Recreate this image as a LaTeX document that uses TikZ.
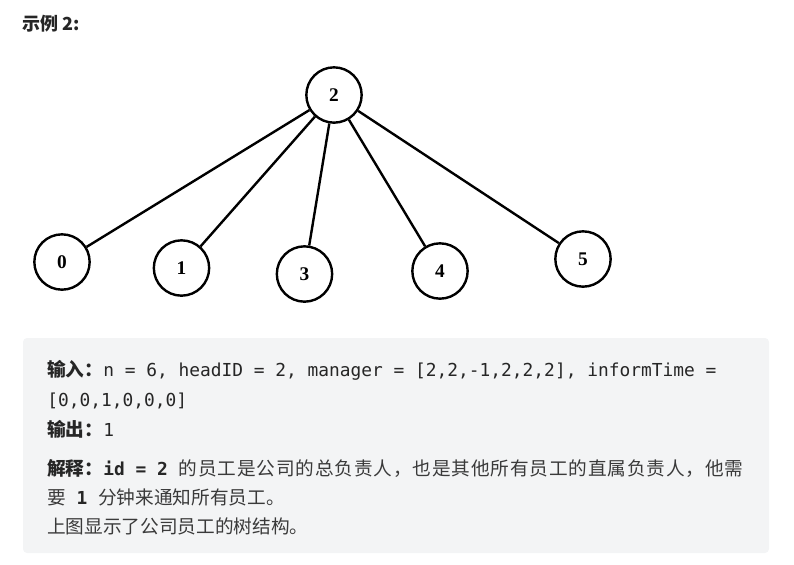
\documentclass[tikz,border=0pt]{standalone}
\usepackage{fontspec}
\setmainfont{Noto Sans CJK SC}
\setmonofont{DejaVu Sans Mono}
\newfontfamily\cjkwide{Noto Sans CJK SC}[LetterSpace=4.5]
\newfontfamily\digitfont{Liberation Serif}
\definecolor{boxgray}{HTML}{F3F4F5}
\definecolor{textdark}{HTML}{262626}
\definecolor{textbody}{HTML}{3A3A3A}
\newcommand{\codetxt}[1]{{\ttfamily\fontsize{13.4}{14}\selectfont\color{textdark}#1}}

\begin{document}
\begin{tikzpicture}[x=0.75pt,y=-0.75pt]
\tikzstyle{emp}=[draw=black,circle,line width=1.8pt,minimum size=41.5pt,inner sep=0pt,font=\digitfont\bfseries\fontsize{14.5}{14}\selectfont]
\tikzstyle{edge}=[black,line width=1.8pt]
\tikzstyle{txt}=[anchor=base west,inner sep=0pt,text=textbody,font=\fontsize{14}{14}\selectfont]
\useasboundingbox (0,0) rectangle (794,565);
\node[txt,text=textdark,font=\fontsize{13.5}{14}\selectfont\bfseries] (title) at (22,30) {示例 2:};
\node[emp] (n2) at (334,95) {2};
\node[emp] (n0) at (62,262) {0};
\node[emp] (n1) at (181.5,268) {1};
\node[emp] (n3) at (304.5,274) {3};
\node[emp] (n4) at (440,271) {4};
\node[emp] (n5) at (583,259) {5};
\draw[edge] (n2) -- (n0);
\draw[edge] (n2) -- (n1);
\draw[edge] (n2) -- (n3);
\draw[edge] (n2) -- (n4);
\draw[edge] (n2) -- (n5);
\fill[boxgray,rounded corners=3pt] (23,338) rectangle (769,553);
\node[txt] (in1) at (47,376) {\textcolor{textdark}{\textbf{输入：}}\codetxt{n = 6, headID = 2, manager = [2,2,-1,2,2,2], informTime =}};
\node[txt] (in2) at (47,406) {\codetxt{[0,0,1,0,0,0]}};
\node[txt] (out) at (47,436) {\textcolor{textdark}{\textbf{输出：}}\codetxt{1}};
\node[txt] (ex1) at (47,475) {\textcolor{textdark}{\textbf{解释：}}\codetxt{\bfseries id = 2 }{\cjkwide 的员工是公司的总负责人，也是其他所有员工的直属负责人，他需}};
\node[txt] (ex2) at (47,504) {要\codetxt{\ \textbf{1}\ }分钟来通知所有员工。};
\node[txt] (ex3) at (47,533) {上图显示了公司员工的树结构。};
\end{tikzpicture}
\end{document}
